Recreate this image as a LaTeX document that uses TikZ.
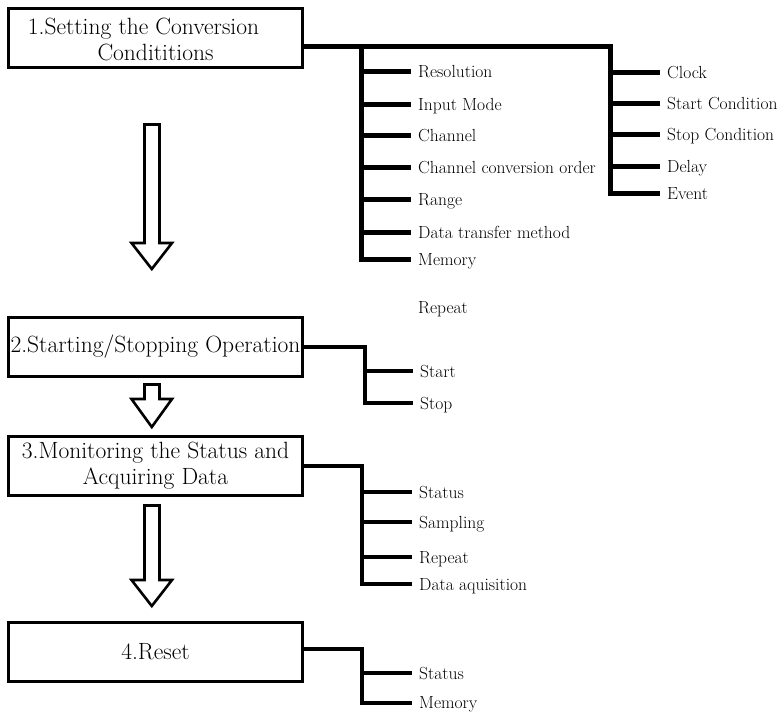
\documentclass[tikz,border=0pt]{standalone}
\begin{document}
\begin{tikzpicture}[x=1pt,y=-1pt,
  box/.style={draw,line width=3pt,minimum width=294pt,minimum height=59pt,inner sep=0pt,align=center,font=\fontsize{23.5}{26.5}\selectfont},
  lab/.style={anchor=west,inner xsep=7pt,inner ysep=0pt,text height=12pt,text depth=0pt,font=\fontsize{17.5}{20}\selectfont},
  treeA/.style={line width=5pt,line join=miter},
  treeB/.style={line width=4pt,line join=miter},
  fat/.style={draw,line width=2.6pt,fill=white,line join=miter}]
\useasboundingbox (0,0) rectangle (784,713);

% boxes
\node[box] (b1) at (155.5,38) {\rule{0pt}{19pt}1.Setting the Conversion\hspace*{24pt}\\Condititions};
\node[box] (b2) at (155.5,346.5) {2.Starting/Stopping Operation};
\node[box] (b3) at (155.5,465.5) {3.Monitoring the Status and\\Acquiring Data};
\node[box] (b4) at (155.5,651.5) {4.Reset};

% block arrows
\draw[fat] (144.5,124.5) -- (159.5,124.5) -- (159.5,243) -- (172,243) -- (151.8,269) -- (131.5,243) -- (144.5,243) -- cycle;
\draw[fat] (144.5,384.5) -- (159.5,384.5) -- (159.5,399) -- (172,399) -- (151.8,427) -- (131.5,399) -- (144.5,399) -- cycle;
\draw[fat] (144.5,505.5) -- (159.5,505.5) -- (159.5,580) -- (172,580) -- (151.8,606) -- (131.5,580) -- (144.5,580) -- cycle;

% group 1 labels
\node[lab] (res) at (411,71) {Resolution};
\node[lab] (inm) at (411,104) {Input Mode};
\node[lab] (chn) at (411,135.5) {Channel};
\node[lab] (cco) at (411,167.5) {Channel conversion order};
\node[lab] (rng) at (411,199) {Range};
\node[lab] (dtm) at (411,232.5) {Data transfer method};
\node[lab] (mem) at (411,259) {Memory};
\node[lab] (rep) at (411,307) {Repeat};

\node[lab] (clk) at (660,72) {Clock};
\node[lab] (stc) at (660,103) {Start Condition};
\node[lab] (spc) at (660,134) {Stop Condition};
\node[lab] (dly) at (660,166) {Delay};
\node[lab] (evt) at (660,193) {Event};

\coordinate (ja) at (361,46);
\coordinate (jb) at (610,46);
\draw[treeA] (b1.east |- ja) -- (jb) -- (jb |- evt.west) -- (evt.west);
\draw[treeA] (ja) -- (ja |- mem.west) -- (mem.west);
\foreach \n in {res,inm,chn,cco,rng,dtm} \draw[treeA] (ja |- \n.west) -- (\n.west);
\foreach \n in {clk,stc,spc,dly} \draw[treeA] (jb |- \n.west) -- (\n.west);

% group 2
\node[lab] (sta) at (413,371) {Start};
\node[lab] (sto) at (413,403) {Stop};
\coordinate (jc) at (365,346.5);
\draw[treeB] (b2.east) -- (jc) -- (jc |- sto.west) -- (sto.west);
\draw[treeB] (jc |- sta.west) -- (sta.west);

% group 3
\node[lab] (st3) at (412,492) {Status};
\node[lab] (sa3) at (412,522) {Sampling};
\node[lab] (re3) at (412,557) {Repeat};
\node[lab] (da3) at (412,584) {Data aquisition};
\coordinate (jd) at (362,465.5);
\draw[treeB] (b3.east) -- (jd) -- (jd |- da3.west) -- (da3.west);
\foreach \n in {st3,sa3,re3} \draw[treeB] (jd |- \n.west) -- (\n.west);

% group 4
\node[lab] (st4) at (412,673) {Status};
\node[lab] (me4) at (412,702.5) {Memory};
\coordinate (je) at (362,649);
\draw[treeB] (b4.east |- je) -- (je) -- (je |- me4.west) -- (me4.west);
\draw[treeB] (je |- st4.west) -- (st4.west);
\end{tikzpicture}
\end{document}
